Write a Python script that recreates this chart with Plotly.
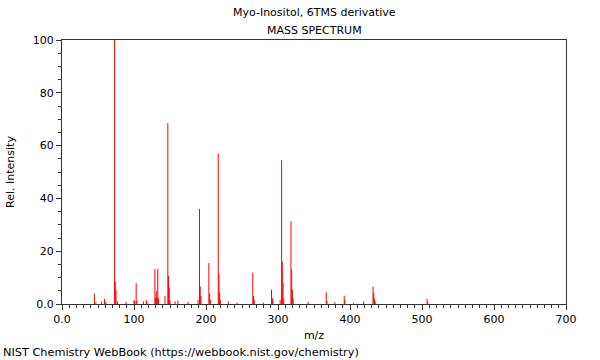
import plotly.graph_objects as go

# m/z and relative intensity values
mz = [45, 47, 55, 59, 61, 73, 74, 75, 77, 89, 100, 101, 103, 104, 113, 117, 118,
      129, 130, 131, 132, 133, 134, 143, 147, 148, 149, 150, 157, 161, 175,
      189, 191, 192, 193, 204, 205, 206, 217, 218, 219, 220, 231, 243,
      265, 266, 267, 280, 291, 292, 293, 303, 305, 306, 307, 308, 318, 319, 320, 321,
      342, 367, 368, 379, 392, 393, 405, 419, 432, 433, 434, 435, 507, 508]
intensity = [4.0, 0.6, 1.0, 1.9, 0.8, 100, 8.5, 5.3, 1.0, 0.8, 1.5, 1.0, 7.8, 1.2, 1.0, 1.5, 0.8,
             13.3, 2.5, 5.0, 2.3, 13.3, 2.0, 3.0, 68.5, 10.7, 6.2, 1.5, 1.0, 1.3, 0.8,
             1.5, 36.0, 6.6, 3.0, 15.5, 4.0, 1.6, 57.0, 11.2, 4.3, 1.5, 1.0, 0.5,
             11.9, 3.0, 1.5, 0.5, 5.5, 2.3, 1.8, 1.5, 54.5, 16.0, 8.0, 2.0, 31.3, 13.0, 5.3, 2.0,
             0.8, 4.4, 1.1, 0.7, 3.0, 1.3, 0.4, 1.0, 6.6, 4.3, 2.0, 1.0, 1.9, 0.8]

x_ticks = [0, 100, 200, 300, 400, 500, 600, 700]
x_labels = ["0.0", "100", "200", "300", "400", "500", "600", "700"]
y_ticks = [0, 20, 40, 60, 80, 100]
y_labels = ["0.0", "20", "40", "60", "80", "100"]

title_line1 = "Myo-Inositol, 6TMS derivative"
title_line2 = "MASS SPECTRUM"
footer = "NIST Chemistry WebBook (https://webbook.nist.gov/chemistry)"

xs, ys = [], []
for m, v in zip(mz, intensity):
    xs += [m, m, None]
    ys += [0, v, None]

fig = go.Figure()
fig.add_trace(go.Scatter(x=xs, y=ys, mode="lines",
                         line=dict(color="rgb(255,0,0)", width=1),
                         hoverinfo="skip", showlegend=False))

W, H = 600, 360
ML, MR, MT, MB = 62, 34, 40, 56
font = dict(family="DejaVu Sans", size=11, color="black")
axis_common = dict(showline=True, linecolor="#333333", linewidth=1, mirror=True,
                   ticks="outside", ticklen=5, tickcolor="#333333", showgrid=False,
                   zeroline=False, tickfont=font, automargin=False)

fig.update_layout(
    width=W, height=H,
    margin=dict(l=ML, r=MR, t=MT, b=MB),
    paper_bgcolor="white", plot_bgcolor="white",
    font=font,
    xaxis=dict(range=[0, 700], tickvals=x_ticks, ticktext=x_labels,
               minor=dict(dtick=10, ticklen=3, ticks="outside", tickcolor="#333333"),
               title=dict(text="m/z", font=font, standoff=6), **axis_common),
    yaxis=dict(range=[0, 100], tickvals=y_ticks, ticktext=y_labels,
               minor=dict(dtick=5, ticklen=3, ticks="outside", tickcolor="#333333"),
               title=dict(text="Rel. Intensity", font=font, standoff=15), **axis_common),
)

plot_h = H - MT - MB
plot_w = W - ML - MR
def py_to_paper(py):
    return (H - MB - py) / plot_h
def px_to_paper(px):
    return (px - ML) / plot_w

fig.add_annotation(text=title_line1, x=0.5, y=py_to_paper(13), xref="paper", yref="paper",
                   showarrow=False, font=font, xanchor="center", yanchor="middle")
fig.add_annotation(text=title_line2, x=0.5, y=py_to_paper(30), xref="paper", yref="paper",
                   showarrow=False, font=font, xanchor="center", yanchor="middle")
fig.add_annotation(text=footer, x=px_to_paper(1), y=py_to_paper(352), xref="paper", yref="paper",
                   showarrow=False, font=dict(family="DejaVu Sans", size=11.3, color="black"),
                   xanchor="left", yanchor="middle")

fig.write_html("out.html", post_script="document.body.style.margin='0';",
               config={"displayModeBar": False})
